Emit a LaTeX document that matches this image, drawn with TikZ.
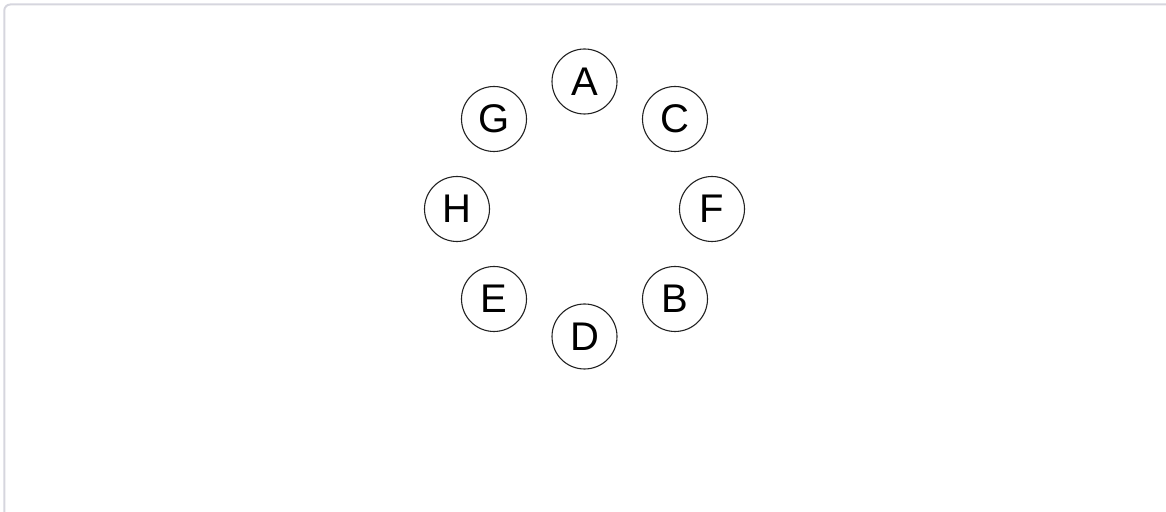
\documentclass[tikz,border=0pt]{standalone}
\usepackage{fontspec}
\setmainfont{Liberation Sans}
\usepackage{xcolor}
\usepackage{tikz}
\usetikzlibrary{positioning}
\definecolor{ringgray}{HTML}{222222}
\definecolor{framegray}{HTML}{D6D6DE}

\begin{document}
\begin{tikzpicture}[
    x=1pt, y=1pt,
    letter/.style={circle, draw=ringgray, line width=1.1pt, minimum size=65pt, inner sep=0pt, font=\fontsize{40}{48}\selectfont}
]
    \useasboundingbox (0,0) rectangle (1166,511);
    % Frame
    \draw[framegray, line width=2pt, rounded corners=6pt] (4.3,-30) -- (4.3,506.5) -- (1200,506.5);

    % Nodes
    \node[letter] (A) at (584.5,429.5) {A};
    \node[letter] (C) at (675,392) {C};
    \node[letter] (F) at (712,302) {F};
    \node[letter] (B) at (675,212) {B};
    \node[letter] (D) at (584.5,174.5) {D};
    \node[letter] (E) at (494,212) {E};
    \node[letter] (H) at (457,302) {H};
    \node[letter] (G) at (494,392) {G};
\end{tikzpicture}
\end{document}
